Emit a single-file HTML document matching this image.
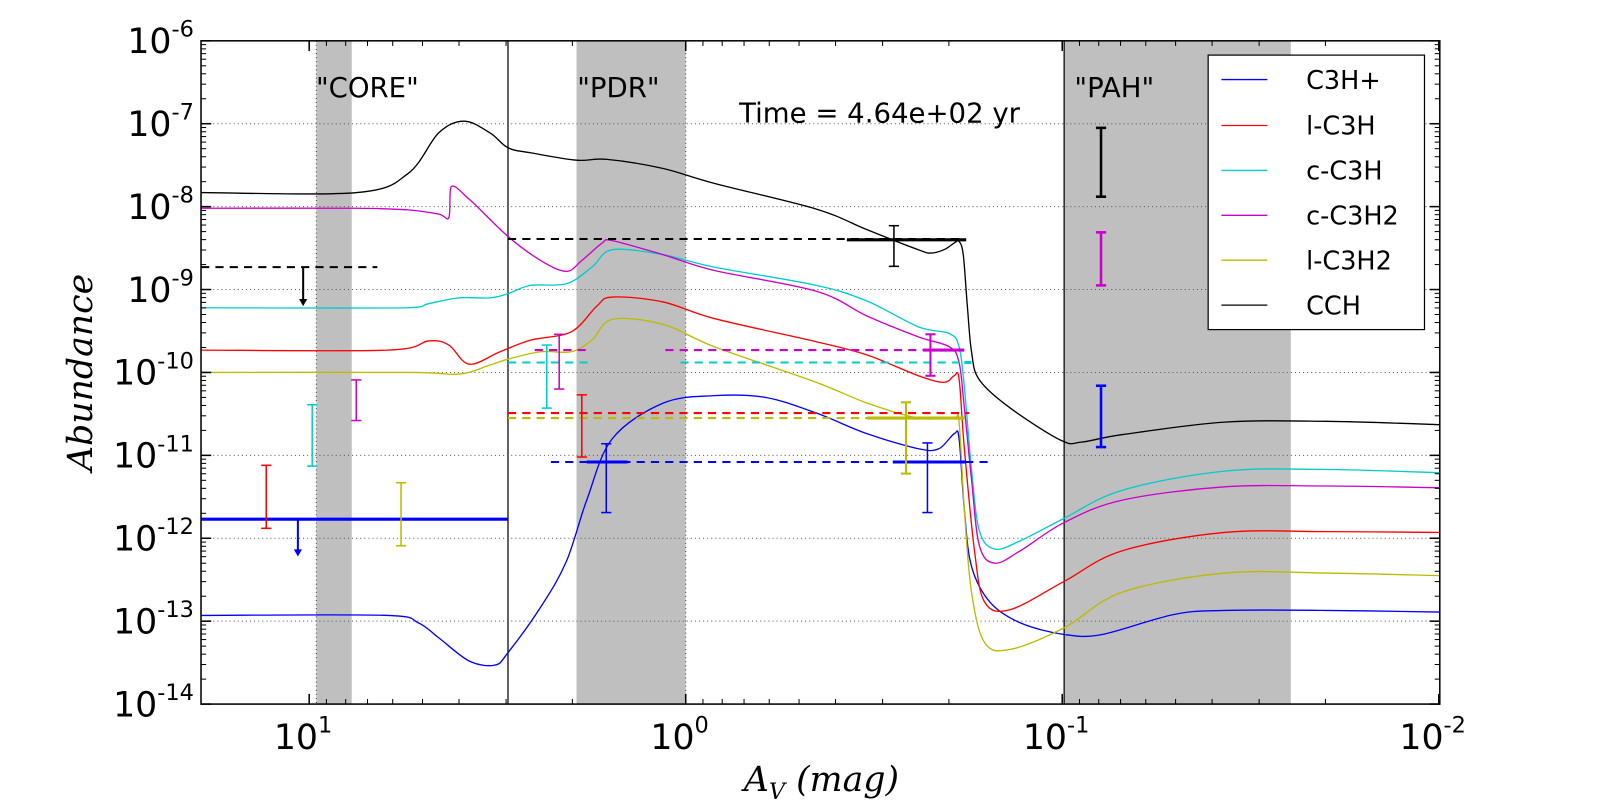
<!DOCTYPE html>
<html><head><meta charset="utf-8"><style>
html,body{margin:0;padding:0;width:1600px;height:800px;overflow:hidden;background:#fff;}
svg{display:block;position:absolute;left:0;top:0;font-family:"DejaVu Sans","Liberation Sans",sans-serif;}
</style></head><body>
<svg id="chart" width="1600" height="800" viewBox="0 0 1568 784" xmlns="http://www.w3.org/2000/svg">
<g id="bands"></g><g id="grid"></g><g id="series"></g><g id="obs"></g><g id="axes"></g>
<g font-family="DejaVu Sans, Liberation Sans, sans-serif" font-size="27" fill="black">
<text x="360" y="95" text-anchor="middle">"CORE"</text>
<text x="606" y="95" text-anchor="middle">"PDR"</text>
<text x="1092" y="95" text-anchor="middle">"PAH"</text>
<text x="862" y="120" text-anchor="middle">Time = 4.64e+02 yr</text>
</g>
<text x="805" y="775" text-anchor="middle" font-family="DejaVu Serif, Liberation Serif, serif" font-style="italic" font-size="34">A<tspan font-size="22" dy="8">V</tspan><tspan dy="-8"> (mag)</tspan></text>
<text transform="translate(90,365) rotate(-90)" text-anchor="middle" font-family="DejaVu Serif, Liberation Serif, serif" font-style="italic" font-size="34">Abundance</text>
<g font-family="DejaVu Sans, Liberation Sans, sans-serif" font-size="25">
<rect x="1184" y="54" width="212" height="269" fill="white" stroke="black" stroke-width="1.2"/>
<g><line x1="1197" x2="1242" y1="78" y2="78" stroke="blue" stroke-width="1.3"/><text x="1280" y="87">C3H+</text></g>
<g><line x1="1197" x2="1242" y1="123" y2="123" stroke="red" stroke-width="1.3"/><text x="1280" y="132">l-C3H</text></g>
<g><line x1="1197" x2="1242" y1="167" y2="167" stroke="#0cc" stroke-width="1.3"/><text x="1280" y="176">c-C3H</text></g>
<g><line x1="1197" x2="1242" y1="211" y2="211" stroke="#c0c" stroke-width="1.3"/><text x="1280" y="220">c-C3H2</text></g>
<g><line x1="1197" x2="1242" y1="255" y2="255" stroke="#bb0" stroke-width="1.3"/><text x="1280" y="264">l-C3H2</text></g>
<g><line x1="1197" x2="1242" y1="299" y2="299" stroke="black" stroke-width="1.3"/><text x="1280" y="308">CCH</text></g>
</g>
</svg>
<script>
// x = log10(Av), y = log10(abundance)
const cchX=[1.287,0.873,0.737,0.656,0.588,0.520,0.472,0.412,0.290,0.209,0.060,-0.076,-0.347,-0.482,-0.618,-0.650,-0.686,-0.713,-0.726,-0.737,-0.748,-0.759,-0.780,-0.862,-0.997,-1.051,-1.160,-1.431,-1.702,-2.003];
const cchY=[-7.83,-7.83,-7.60,-7.11,-6.97,-7.11,-7.29,-7.35,-7.44,-7.43,-7.54,-7.72,-8.03,-8.28,-8.52,-8.56,-8.52,-8.44,-8.42,-8.58,-9.2,-9.75,-10.09,-10.43,-10.82,-10.84,-10.75,-10.60,-10.59,-10.63];
const cc3h2X=[1.287,0.873,0.737,0.656,0.629,0.623,0.575,0.472,0.385,0.317,0.276,0.222,0.195,0.060,-0.076,-0.347,-0.482,-0.618,-0.700,-0.726,-0.740,-0.759,-0.780,-0.821,-0.889,-1.005,-1.160,-1.431,-1.702,-2.003];
const cc3h2Y=[-8.02,-8.02,-8.04,-8.09,-8.13,-7.76,-7.91,-8.36,-8.65,-8.78,-8.65,-8.44,-8.41,-8.58,-8.77,-9.02,-9.32,-9.57,-9.69,-9.88,-10.43,-11.29,-12.09,-12.3,-12.15,-11.81,-11.54,-11.38,-11.37,-11.39];
const cc3hX=[1.287,0.737,0.683,0.602,0.520,0.472,0.412,0.317,0.249,0.195,0.060,-0.076,-0.347,-0.482,-0.618,-0.700,-0.726,-0.740,-0.759,-0.780,-0.821,-0.889,-1.005,-1.160,-1.431,-1.702,-2.003];
const cc3hY=[-9.22,-9.22,-9.17,-9.10,-9.10,-9.05,-8.95,-8.93,-8.73,-8.52,-8.58,-8.73,-8.95,-9.14,-9.45,-9.53,-9.69,-10.18,-11.17,-11.91,-12.13,-12.03,-11.76,-11.42,-11.19,-11.17,-11.21];
const lc3hX=[1.287,0.791,0.683,0.629,0.575,0.493,0.412,0.304,0.236,0.195,0.060,-0.076,-0.347,-0.482,-0.618,-0.686,-0.713,-0.726,-0.740,-0.767,-0.794,-0.862,-1.005,-1.160,-1.431,-1.702,-2.003];
const lc3hY=[-9.73,-9.73,-9.62,-9.67,-9.90,-9.75,-9.61,-9.51,-9.2,-9.09,-9.15,-9.35,-9.63,-9.79,-10.04,-10.12,-10.04,-10.08,-10.92,-12.15,-12.77,-12.86,-12.52,-12.15,-11.93,-11.92,-11.93];
const lc3h2X=[1.287,0.737,0.602,0.520,0.472,0.385,0.304,0.249,0.195,0.060,-0.076,-0.347,-0.482,-0.618,-0.713,-0.726,-0.740,-0.759,-0.794,-0.862,-1.005,-1.160,-1.431,-1.702,-2.003];
const lc3h2Y=[-10.0,-10.0,-10.02,-9.91,-9.84,-9.75,-9.75,-9.61,-9.36,-9.42,-9.69,-10.12,-10.37,-10.55,-10.55,-10.6,-11.66,-12.65,-13.26,-13.34,-13.08,-12.65,-12.42,-12.42,-12.45];
const c3hpX=[1.287,0.791,0.710,0.656,0.575,0.507,0.472,0.385,0.317,0.263,0.195,0.060,-0.076,-0.211,-0.347,-0.482,-0.618,-0.672,-0.713,-0.726,-0.740,-0.759,-0.808,-0.889,-1.005,-1.106,-1.295,-1.431,-1.702,-2.003];
const c3hpY=[-12.93,-12.93,-13.02,-13.2,-13.48,-13.53,-13.38,-12.83,-12.28,-11.54,-10.8,-10.37,-10.28,-10.3,-10.49,-10.74,-10.92,-10.92,-10.74,-10.8,-11.66,-12.34,-12.77,-13.02,-13.16,-13.16,-12.92,-12.87,-12.87,-12.89];
// observations: error bars [x, ylo, yhi]
const ebX=[0.875,0.336,-0.650,-1.103,0.992,0.369,1.114,0.276,0.756,-0.585,0.211,-0.642,-1.103,-0.553,-1.103];
const ebLo=[-10.58,-10.2,-10.04,-8.95,-11.13,-10.43,-11.88,-11.02,-12.09,-11.22,-11.69,-11.69,-10.90,-8.72,-7.88];
const ebHi=[-10.09,-9.54,-9.54,-8.31,-10.39,-9.67,-11.12,-10.27,-11.33,-10.36,-10.86,-10.85,-10.16,-8.23,-7.05];
const ebCol=['#c0c','#c0c','#c0c','#c0c','#0cc','#0cc','red','red','#bb0','#bb0','blue','blue','blue','black','black'];
const ebW=[1.5,1.5,2,2.5,1.5,1.5,1.5,1.5,1.5,2,1.5,1.5,2.5,1.5,2.5];
// dashed levels [y, x1, x2]
const dY=[-8.73,-8.39,-9.73,-9.73,-9.88,-9.88,-10.49,-10.55,-11.08];
const dX1=[1.287,0.472,0.401,0.054,0.472,0.014,0.472,0.472,0.358];
const dX2=[0.819,-0.740,0.249,-0.740,0.249,-0.759,-0.753,-0.740,-0.808];
const dCol=['black','black','#c0c','#c0c','#0cc','#0cc','red','#bb0','blue'];
// solid horizontal segments
const sY=[-8.40,-9.73,-9.88,-10.55,-11.08,-11.08,-11.77];
const sX1=[-0.428,-0.631,-0.740,-0.482,0.263,-0.550,1.287];
const sX2=[-0.745,-0.740,-0.759,-0.740,0.154,-0.745,0.472];
const sCol=['black','#c0c','#0cc','#bb0','blue','blue','blue'];
// upper-limit arrows [x, yfrom, yto]
const arX=[1.016,1.03];const arY1=[-8.73,-11.77];const arY2=[-9.2,-12.22];const arCol=['black','blue'];

const X0=303,DX=369,Y0=40,DY=81.25;
const px=l=>X0+(1-l)*DX;
const py=l=>Y0+(-6-l)*DY;
const NS='http://www.w3.org/2000/svg';
function mk(tag,attrs,parent){const e=document.createElementNS(NS,tag);for(const k in attrs)e.setAttribute(k,attrs[k]);parent.appendChild(e);return e;}
const bands=document.getElementById('bands'),grid=document.getElementById('grid'),ser=document.getElementById('series'),obs=document.getElementById('obs'),axes=document.getElementById('axes');
const bandLo=[0.981,0.290,-1.005],bandHi=[0.887,0.0,-1.607],bandNames=['core-band','pdr-band','pah-band'];
for(let i=0;i<3;i++){const r=mk('rect',{x:px(bandLo[i]),y:40,width:px(bandHi[i])-px(bandLo[i]),height:650,fill:'#bfbfbf'},bands);

}
mk('line',{x1:px(0.981),x2:px(0.981),y1:40,y2:690,stroke:'#444','stroke-dasharray':'1,3'},bands);
mk('line',{x1:px(0),x2:px(0),y1:40,y2:690,stroke:'#444','stroke-dasharray':'1,3'},bands);
const vl=mk('line',{x1:px(0.472),x2:px(0.472),y1:40,y2:690,stroke:'black','stroke-width':1.2},bands);


mk('line',{x1:px(-1.005),x2:px(-1.005),y1:40,y2:690,stroke:'black','stroke-width':1.2},bands);
for(let d=-13;d<=-7;d++){mk('line',{x1:197,x2:1411,y1:py(d),y2:py(d),stroke:'#555','stroke-dasharray':'1,3'},grid);}
function smooth(P){let d='M'+P[0][0].toFixed(1)+','+P[0][1].toFixed(1);
for(let i=0;i<P.length-1;i++){const p0=P[i-1]||P[i],p1=P[i],p2=P[i+1],p3=P[i+2]||P[i+1];
const c1=[p1[0]+(p2[0]-p0[0])/6,p1[1]+(p2[1]-p0[1])/6],c2=[p2[0]-(p3[0]-p1[0])/6,p2[1]-(p3[1]-p1[1])/6];
c1[0]=Math.min(Math.max(c1[0],p1[0]),p2[0]);c2[0]=Math.min(Math.max(c2[0],p1[0]),p2[0]);
d+='C'+c1[0].toFixed(1)+','+c1[1].toFixed(1)+' '+c2[0].toFixed(1)+','+c2[1].toFixed(1)+' '+p2[0].toFixed(1)+','+p2[1].toFixed(1);}
return d;}
const S=[[c3hpX,c3hpY,'blue','c3h-plus-line'],[lc3hX,lc3hY,'red','l-c3h-line'],[cc3hX,cc3hY,'#0cc','c-c3h-line'],[cc3h2X,cc3h2Y,'#c0c','c-c3h2-line'],[lc3h2X,lc3h2Y,'#bb0','l-c3h2-line'],[cchX,cchY,'black','cch-line']];
for(const s of S){const P=s[0].map((v,i)=>[px(v),py(s[1][i])]);
const p=mk('path',{d:smooth(P),fill:'none',stroke:s[2],'stroke-width':1.3,'stroke-linejoin':'round'},ser);

}
for(let i=0;i<dY.length;i++){const l=mk('line',{x1:px(dX1[i]),x2:px(dX2[i]),y1:py(dY[i]),y2:py(dY[i]),stroke:dCol[i],'stroke-width':2,'stroke-dasharray':'8,6'},obs);

}
for(let i=0;i<sY.length;i++){const l=mk('line',{x1:px(sX1[i]),x2:px(sX2[i]),y1:py(sY[i]),y2:py(sY[i]),stroke:sCol[i],'stroke-width':3},obs);

}
for(let i=0;i<ebX.length;i++){const x=px(ebX[i]),a=py(ebLo[i]),b=py(ebHi[i]);
const g=mk('g',{stroke:ebCol[i],'stroke-width':ebW[i]},obs);


mk('line',{x1:x,x2:x,y1:a,y2:b},g);mk('line',{x1:x-5,x2:x+5,y1:a,y2:a},g);mk('line',{x1:x-5,x2:x+5,y1:b,y2:b},g);}
for(let i=0;i<arX.length;i++){const x=px(arX[i]),a=py(arY1[i]),b=py(arY2[i]);
const g=mk('g',{},obs);


mk('line',{x1:x,x2:x,y1:a,y2:b-5,stroke:arCol[i],'stroke-width':2},g);
mk('polygon',{points:`${x-4},${b-7} ${x+4},${b-7} ${x},${b}`,fill:arCol[i]},g);}
mk('rect',{x:197,y:40,width:1214,height:650,fill:'none',stroke:'black','stroke-width':1.5},axes);
for(let d=-14;d<=-6;d++){const y=py(d);
mk('line',{x1:197,x2:207,y1:y,y2:y,stroke:'black','stroke-width':1.5},axes);mk('line',{x1:1401,x2:1411,y1:y,y2:y,stroke:'black','stroke-width':1.5},axes);
const t=mk('text',{x:190,y:y+12,'text-anchor':'end','font-size':34},axes);


t.innerHTML=`10<tspan font-size="22" dy="-16">${d}</tspan>`;
if(d<-6)for(let m=2;m<10;m++){const ym=py(d+Math.log10(m));mk('line',{x1:197,x2:202,y1:ym,y2:ym,stroke:'black'},axes);mk('line',{x1:1406,x2:1411,y1:ym,y2:ym,stroke:'black'},axes);}}
const xt=[1,0,-1,-2];
for(const d of xt){const x=px(d);
mk('line',{x1:x,x2:x,y1:680,y2:690,stroke:'black','stroke-width':1.5},axes);mk('line',{x1:x,x2:x,y1:40,y2:50,stroke:'black','stroke-width':1.5},axes);
const t=mk('text',{x:x-6,y:734,'text-anchor':'middle','font-size':34},axes);


t.innerHTML=`10<tspan font-size="22" dy="-16">${d}</tspan>`;}
for(let d=-3;d<=1;d++)for(let m=2;m<10;m++){const l=d+Math.log10(m);if(l>1.287||l<-2)continue;const x=px(l);
mk('line',{x1:x,x2:x,y1:685,y2:690,stroke:'black'},axes);mk('line',{x1:x,x2:x,y1:40,y2:45,stroke:'black'},axes);}
</script>
</body></html>
